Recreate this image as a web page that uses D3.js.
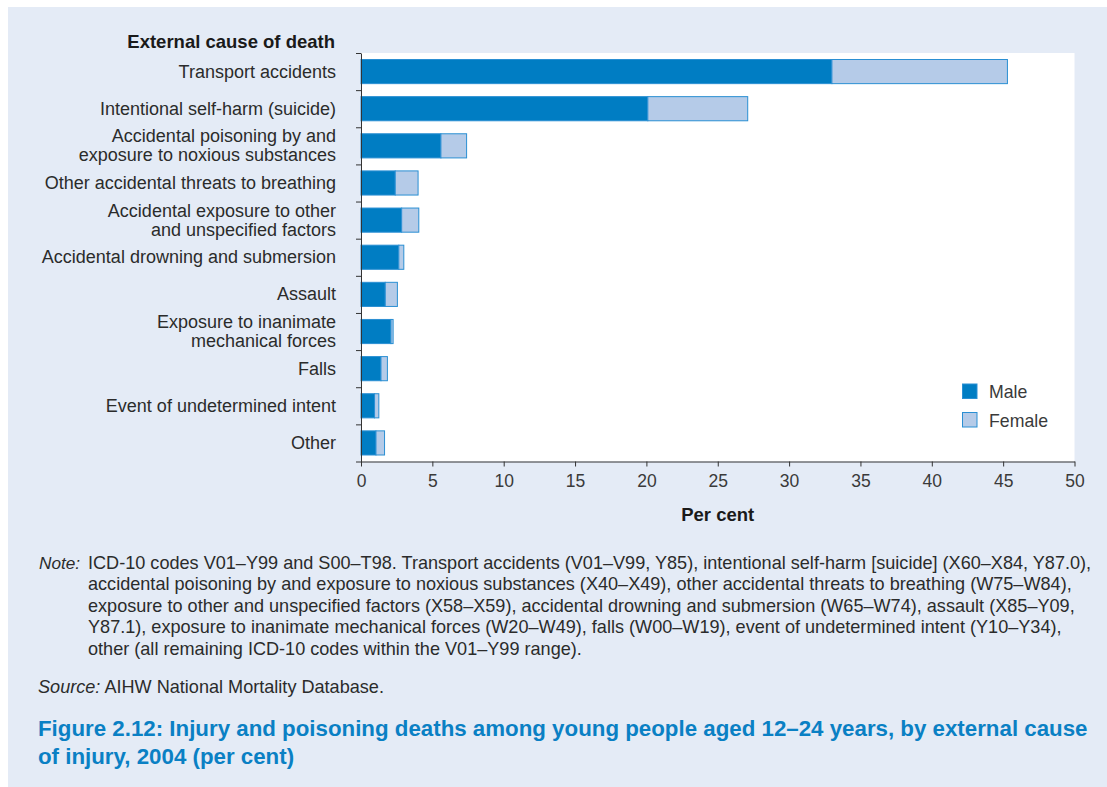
<!DOCTYPE html>
<html><head><meta charset="utf-8">
<script src="https://cdn.jsdelivr.net/npm/d3@7"></script>
<style>
body{margin:0;background:#fff;}
svg{display:block;font-family:"Liberation Sans",Arial,Helvetica,sans-serif;}
</style></head>
<body><svg id="c" width="1107" height="787"></svg>
<script>
const categories = [
  ["Transport accidents"],
  ["Intentional self-harm (suicide)"],
  ["Accidental poisoning by and","exposure to noxious substances"],
  ["Other accidental threats to breathing"],
  ["Accidental exposure to other","and unspecified factors"],
  ["Accidental drowning and submersion"],
  ["Assault"],
  ["Exposure to inanimate","mechanical forces"],
  ["Falls"],
  ["Event of undetermined intent"],
  ["Other"]
];
const male   = [33.0, 20.1, 5.6, 2.4, 2.85, 2.65, 1.7, 2.1, 1.4, 0.95, 1.05];
const female = [12.3, 7.0, 1.8, 1.6, 1.2, 0.35, 0.85, 0.15, 0.45, 0.3, 0.6];
const xTicks = [0,5,10,15,20,25,30,35,40,45,50];
const seriesNames = ["Male","Female"];
const noteLines = [
  "ICD-10 codes V01\u2013Y99 and S00\u2013T98. Transport accidents (V01\u2013V99, Y85), intentional self-harm [suicide] (X60\u2013X84, Y87.0),",
  "accidental poisoning by and exposure to noxious substances (X40\u2013X49), other accidental threats to breathing (W75\u2013W84),",
  "exposure to other and unspecified factors (X58\u2013X59), accidental drowning and submersion (W65\u2013W74), assault (X85\u2013Y09,",
  "Y87.1), exposure to inanimate mechanical forces (W20\u2013W49), falls (W00\u2013W19), event of undetermined intent (Y10\u2013Y34),",
  "other (all remaining ICD-10 codes within the V01\u2013Y99 range)."
];
const titleLines = [
  "Figure 2.12: Injury and poisoning deaths among young people aged 12\u201324 years, by external cause",
  "of injury, 2004 (per cent)"
];

const svg = d3.select("#c");
const txt = "#2b2b2b";
svg.append("rect").attr("x",8).attr("y",7).attr("width",1099).attr("height",780).attr("fill","#e4ebf6");

const L=361, R=1074.5, T=53, B=461.5;
svg.append("rect").attr("x",L).attr("y",T).attr("width",R-L).attr("height",B-T).attr("fill","#fff");

const x = d3.scaleLinear().domain([0,50]).range([L,R]);
const y = d3.scaleBand().domain(d3.range(categories.length)).range([T,B]).paddingInner(0.35).paddingOuter(0.175);
const yb = d3.scaleLinear().domain([0,categories.length]).range([T,B]);

// bars
const g = svg.append("g");
g.selectAll("rect.m").data(male).join("rect")
  .attr("x",x(0)).attr("y",(d,i)=>y(i)).attr("width",d=>x(d)-x(0)).attr("height",y.bandwidth())
  .attr("fill","#007dc3").attr("stroke","#2a8fd3").attr("stroke-width",1);
g.selectAll("rect.f").data(female).join("rect")
  .attr("x",(d,i)=>x(male[i])).attr("y",(d,i)=>y(i)).attr("width",d=>x(d)-x(0)).attr("height",y.bandwidth())
  .attr("fill","#b5cbe8").attr("stroke","#2a8fd3").attr("stroke-width",1);

// x axis
const xa = svg.append("g").attr("transform",`translate(0,${B})`)
  .call(d3.axisBottom(x).tickValues(xTicks).tickSize(5).tickSizeOuter(0).tickPadding(8));
xa.select(".domain").attr("stroke","#333");
xa.selectAll(".tick line").attr("stroke","#333");
xa.selectAll(".tick text").attr("font-size",17.5).attr("fill","#3a3a3a").attr("font-family","Liberation Sans, Arial, sans-serif");

// y axis
const ya = svg.append("g").attr("transform",`translate(${L},0)`)
  .call(d3.axisLeft(yb).tickValues(d3.range(categories.length+1)).tickSize(5).tickSizeOuter(0).tickFormat(""));
ya.select(".domain").attr("stroke","#333");
ya.selectAll(".tick line").attr("stroke","#333");

// category labels
categories.forEach((lines,i)=>{
  const cy = y(i)+y.bandwidth()/2;
  const lh = 19;
  const t = svg.append("text").attr("x",336).attr("text-anchor","end").attr("font-size",18).attr("fill",txt);
  lines.forEach((s,j)=>{
    t.append("tspan").attr("x",336).attr("y",cy + (j-(lines.length-1)/2)*lh + 6).text(s);
  });
});

svg.append("text").attr("x",335).attr("y",47.5).attr("text-anchor","end").attr("font-size",18.5)
  .attr("font-weight","bold").attr("fill","#1a1a1a").text("External cause of death");
svg.append("text").attr("x",(L+R)/2).attr("y",520.5).attr("text-anchor","middle").attr("font-size",18.5)
  .attr("font-weight","bold").attr("fill","#1a1a1a").text("Per cent");

// legend
const lg = svg.append("g");
seriesNames.forEach((n,i)=>{
  lg.append("rect").attr("x",962.5).attr("y",384+i*28.5).attr("width",14.5).attr("height",14.5)
    .attr("fill",i===0?"#007dc3":"#b5cbe8").attr("stroke","#2a8fd3");
  lg.append("text").attr("x",989).attr("y",398+i*28.5).attr("font-size",17.7).attr("fill","#3a3a3a").text(n);
});

// note
const nt = svg.append("g").attr("font-size",18.1).attr("fill",txt);
nt.append("text").attr("x",39).attr("y",568.5).attr("font-style","italic").attr("font-size",17.2).text("Note:");
noteLines.forEach((s,i)=>{
  nt.append("text").attr("x",88).attr("y",568.5+i*21.5).text(s);
});
nt.append("text").attr("x",38).attr("y",692.5).html('<tspan font-style="italic">Source:</tspan> AIHW National Mortality Database.');

// title
titleLines.forEach((s,i)=>{
  svg.append("text").attr("x",38).attr("y",735.5+i*28).attr("font-size",22.3).attr("font-weight","bold")
    .attr("fill","#0a80c4").text(s);
});
</script></body></html>
